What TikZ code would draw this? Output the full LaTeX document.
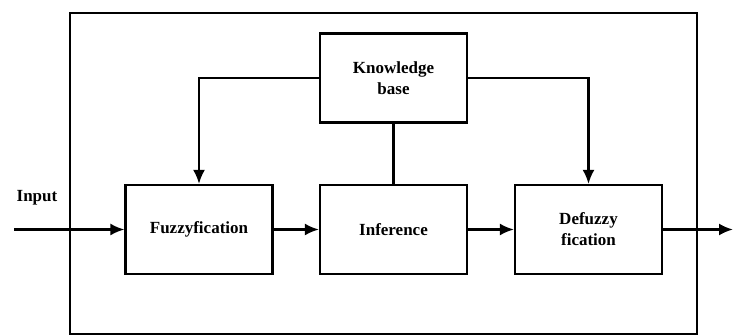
\documentclass[tikz,border=0pt]{standalone}
\usepackage{fontspec}
\setmainfont{Liberation Serif}
\usepackage{tikz}
\usetikzlibrary{arrows.meta,positioning}
\tikzset{
  block/.style={draw,line width=2.2pt,minimum width=147pt,minimum height=89pt,align=center,font=\bfseries\fontsize{17}{21}\selectfont},
  flow/.style={line width=2.2pt,-{Latex[length=14pt,width=12pt]}},
  link/.style={line width=2.2pt}
}

\begin{document}
\begin{tikzpicture}[x=1pt,y=-1pt]
\useasboundingbox (0,0) rectangle (733,336);
% outer frame
\draw[link] (70,13) rectangle (697,334);
% blocks
\node[block] (kb) at (393.5,78) {Knowledge\\base};
\node[block] (fuzz) at (199,229.5) {Fuzzyfication};
\node[block] (inf) at (393.5,229.5) {Inference};
\node[block] (defuzz) at (588.5,229.5) {Defuzzy\\fication};
\node[font=\bfseries\fontsize{17}{21}\selectfont] (inlabel) at (37,198) {Input};
\coordinate (in) at (14,229.5);
\coordinate (out) at (733,229.5);
% connectors
\draw[flow] (in) -- (fuzz);
\draw[flow] (fuzz) -- (inf);
\draw[flow] (inf) -- (defuzz);
\draw[flow] (defuzz) -- (out);
\draw[flow] (kb.west) -| (fuzz.north);
\draw[flow] (kb.east) -| (defuzz.north);
\draw[link] (kb) -- (inf);
\end{tikzpicture}
\end{document}
